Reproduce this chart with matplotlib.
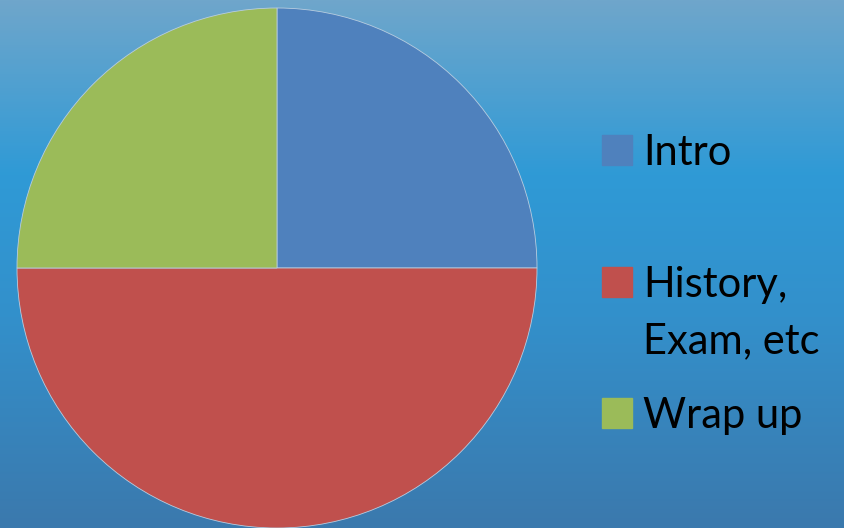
import numpy as np
import matplotlib.pyplot as plt
from matplotlib.colors import LinearSegmentedColormap
from matplotlib.patches import Rectangle

labels = ["Intro", "History,\nExam, etc", "Wrap up"]
shares = [25, 50, 25]
colors = ["#4f81bd", "#c0504d", "#9bbb59"]

W, H = 845, 528
fig = plt.figure(figsize=(W / 100, H / 100), dpi=100)

# slide background: vertical blue gradient
bg = fig.add_axes([0, 0, 1, 1])
grad = LinearSegmentedColormap.from_list(
    "slide", [(0.0, "#6fa6cb"), (0.33, "#2f9ad6"), (0.6, "#3390cb"), (1.0, "#3b79ad")])
bg.imshow(np.linspace(0, 1, 256).reshape(-1, 1), cmap=grad, aspect="auto",
          extent=[0, 1, 0, 1])
bg.set_xlim(0, 1); bg.set_ylim(0, 1)
bg.axis("off")

# pie, centre ~(277,268) px, radius ~260 px
ax = fig.add_axes([17 / W, (H - 528) / H, 520 / W, 520 / H])
ax.pie(shares, colors=colors, startangle=90, counterclock=False,
       wedgeprops=dict(edgecolor="#b8cde0", linewidth=0.6))
ax.set_xlim(-1, 1)
ax.set_ylim(-1, 1)
ax.set_aspect("equal")
ax.axis("off")

# legend drawn by hand to keep the uneven slot spacing of the original
baselines = [165, 297, 428]
line_gap = 56
for lab, col, yb in zip(labels, colors, baselines):
    fig.patches.append(Rectangle((602 / W, 1 - yb / H), 30 / W, 30 / H,
                                 transform=fig.transFigure, color=col))
    for i, line in enumerate(lab.split("\n")):
        fig.text(643 / W, 1 - (yb + i * line_gap) / H, line, fontsize=30,
                 family="Lato", color="black", va="baseline", ha="left")

fig.savefig("out.png", dpi=100)
